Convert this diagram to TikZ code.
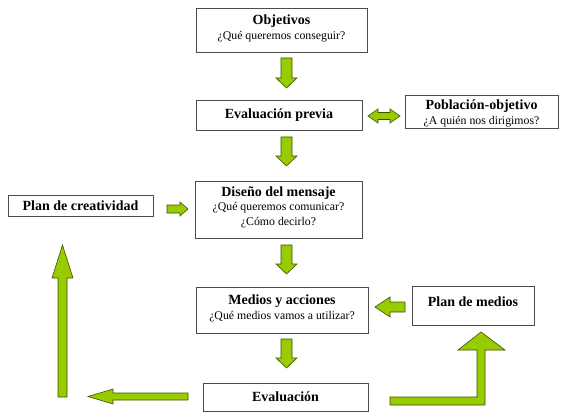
\documentclass[tikz,border=0pt]{standalone}
\usepackage{fontspec}
\setmainfont{Liberation Serif}
\begin{document}
\begin{tikzpicture}[x=1pt,y=-1pt,
  box/.style={draw=black!70, line width=0.7pt, fill=white, inner sep=0pt},
  blk/.style={fill=arrowgreen, draw=arrowedge, line width=0.6pt, line join=miter},
  ttl/.style={font=\fontsize{14}{16}\selectfont\bfseries},
  sub/.style={font=\fontsize{11.8}{13}\selectfont}]
\definecolor{arrowgreen}{RGB}{153,204,0}
\definecolor{arrowedge}{RGB}{60,80,0}
\useasboundingbox (0,0) rectangle (563,412);
% boxes
\draw[box] (196,8) rectangle (367,52);
\node[ttl] (obj) at (281.5,21) {Objetivos};
\node[sub] (objs) at (281.5,37) {¿Qué queremos conseguir?};
\draw[box] (196,100) rectangle (362,130);
\node[ttl] (evp) at (279,115) {Evaluación previa};
\draw[box] (405,95) rectangle (558,128);
\node[ttl] (pob) at (481.5,106) {Población-objetivo};
\node[sub] (pobs) at (481.5,122) {¿A quién nos dirigimos?};
\draw[box] (8,195) rectangle (153,216);
\node[ttl] (pcr) at (80.5,205.5) {Plan de creatividad};
\draw[box] (195,181) rectangle (362,238);
\node[ttl] (dis) at (278.5,193) {Diseño del mensaje};
\node[sub] (diss1) at (278.5,208) {¿Qué queremos comunicar?};
\node[sub] (diss2) at (278.5,223) {¿Cómo decirlo?};
\draw[box] (196,287) rectangle (368,333);
\node[ttl] (med) at (282,301) {Medios y acciones};
\node[sub] (meds) at (282,317) {¿Qué medios vamos a utilizar?};
\draw[box] (412,286) rectangle (534,325);
\node[ttl] (pme) at (473,302) {Plan de medios};
\draw[box] (203,383) rectangle (368,411);
\node[ttl] (eva) at (285.5,397) {Evaluación};
% down arrows
\foreach \a/\b in {58/88,137/166,245/274,339/368}{
  \draw[blk] (281,\a) -- (292,\a) -- (292,\b-10) -- (297,\b-10) -- (286.5,\b)
    -- (276,\b-10) -- (281,\b-10) -- cycle;}
% double arrow
\draw[blk] (368,116) -- (378,109) -- (378,112.5) -- (390,112.5) -- (390,109) -- (400,116)
  -- (390,123) -- (390,119.5) -- (378,119.5) -- (378,123) -- cycle;
% right arrow from Plan de creatividad
\draw[blk] (167,205) -- (180,205) -- (180,202) -- (188,209) -- (180,216) -- (180,213)
  -- (167,213) -- cycle;
% left arrow from Plan de medios
\draw[blk] (405,302) -- (390,302) -- (390,297) -- (375,307) -- (390,317) -- (390,312)
  -- (405,312) -- cycle;
% left arrow from Evaluacion
\draw[blk] (188,393) -- (113,393) -- (113,389) -- (88,396.5) -- (113,404) -- (113,400)
  -- (188,400) -- cycle;
% up arrow
\draw[blk] (58,397) -- (58,278) -- (52,278) -- (62.5,245) -- (73,278) -- (67,278)
  -- (67,397) -- cycle;
% L arrow
\draw[blk] (390,397) -- (477,397) -- (477,350) -- (458,350) -- (481,332) -- (505,350)
  -- (485,350) -- (485,405) -- (390,405) -- cycle;
\end{tikzpicture}
\end{document}
